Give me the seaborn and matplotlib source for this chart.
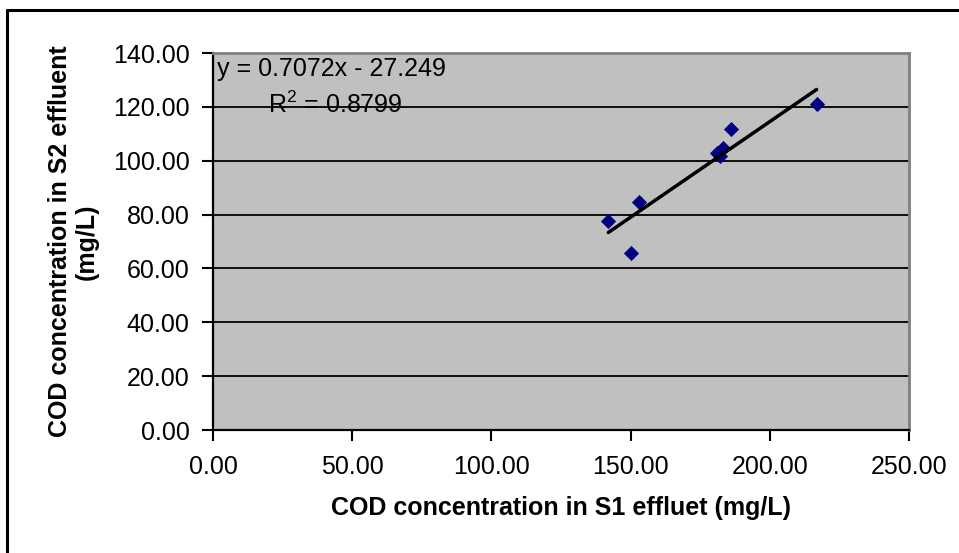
import matplotlib
matplotlib.use("Agg")
import matplotlib.pyplot as plt
from matplotlib.lines import Line2D
import pandas as pd
import seaborn as sns

# COD readings
s1_cod = [142.0, 150.0, 153.0, 180.9, 182.1, 183.3, 186.0, 216.8]
s2_cod = [77.5, 65.7, 84.5, 102.9, 101.9, 104.8, 111.8, 120.9]

x_ticks = [0, 50, 100, 150, 200, 250]
y_ticks = [0, 20, 40, 60, 80, 100, 120, 140]

eq_text = "y = 0.7072x - 27.249"
r2_text = "R$^2$ = 0.8799"

sns.set_style("white")
plt.rcParams["font.family"] = ["Liberation Sans", "DejaVu Sans"]
plt.rcParams["mathtext.fontset"] = "custom"
plt.rcParams["mathtext.rm"] = "Liberation Sans"
plt.rcParams["text.color"] = "black"
plt.rcParams["axes.labelcolor"] = "black"
plt.rcParams["xtick.color"] = "black"
plt.rcParams["ytick.color"] = "black"

FS = 18

df = pd.DataFrame({"s1": s1_cod, "s2": s2_cod})

W, H = 959, 553
fig = plt.figure(figsize=(W / 100, H / 100), dpi=100)
# plot area in pixels: x 213..909, y 53..430
ax = fig.add_axes([213 / W, 1 - 430 / H, (909 - 213) / W, (430 - 53) / H])
ax.set_facecolor("#C0C0C0")

for yv in y_ticks[1:-1]:
    ax.axhline(yv, color="black", lw=1.3, zorder=1)

sns.regplot(data=df, x="s1", y="s2", ax=ax, ci=None, truncate=True,
            marker="D",
            scatter_kws={"s": 60, "color": "#000080", "alpha": 1, "zorder": 3, "linewidths": 0},
            line_kws={"color": "black", "lw": 2.5, "zorder": 4})

ax.set_xlim(0, 250)
ax.set_ylim(0, 140)
ax.set_xticks(x_ticks)
ax.set_yticks(y_ticks)
ax.set_xticklabels([f"{v:.2f}" for v in x_ticks], fontsize=FS)
ax.set_yticklabels([f"{v:.2f}" for v in y_ticks], fontsize=FS)
ax.tick_params(axis="both", direction="out", length=8, width=1.5,
               bottom=True, left=True)
ax.tick_params(axis="x", pad=10)
ax.tick_params(axis="y", pad=9)

for side in ("left", "bottom"):
    ax.spines[side].set_color("black")
    ax.spines[side].set_linewidth(1.6)
for side in ("top", "right"):
    ax.spines[side].set_color("#808080")
    ax.spines[side].set_linewidth(2)

ax.set_xlabel("COD concentration in S1 effluet (mg/L)", fontsize=FS,
              fontweight="bold", labelpad=12)
ax.set_ylabel("COD concentration in S2 effluent\n(mg/L)", fontsize=FS,
              fontweight="bold", labelpad=10, linespacing=1.15)

ax.text(1.4, 131.3, eq_text, fontsize=FS, va="baseline", ha="left", zorder=5)
ax.text(19.8, 117.9, r2_text, fontsize=FS, va="baseline", ha="left", zorder=5)

# outer chart frame (only left and top edges are visible in the picture)
fig.add_artist(Line2D([7 / W, 7 / W], [0, 1 - 10 / H], color="black", lw=2.2))
fig.add_artist(Line2D([7 / W, 1], [1 - 10 / H, 1 - 10 / H], color="black", lw=2.2))

fig.savefig("out.png", dpi=100)
